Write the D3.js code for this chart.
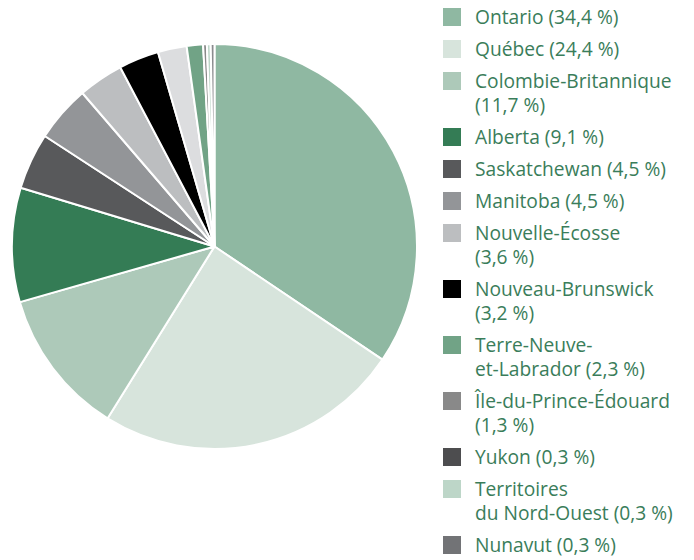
<!DOCTYPE html>
<html><head><meta charset="utf-8">
<script src="https://cdn.jsdelivr.net/npm/d3@7"></script>
<style>body{margin:0;background:#fff}</style>
</head><body>
<svg id="c" width="694" height="560"></svg>
<script>
const provinces = ["Ontario","Québec","Colombie-Britannique","Alberta","Saskatchewan","Manitoba","Nouvelle-Écosse","Nouveau-Brunswick","Terre-Neuve-\net-Labrador","Île-du-Prince-Édouard","Yukon","Territoires\ndu Nord-Ouest","Nunavut"];
const shares = [34.4,24.4,11.7,9.1,4.5,4.5,3.6,3.2,2.3,1.3,0.3,0.3,0.3];
const breakBeforeValue = [false,false,true,false,false,false,true,true,false,true,false,false,false];
const legendColors = ["#8fb8a2","#d7e4dc","#adc9b9","#347c55","#58595b","#939598","#bcbec0","#000000","#71a386","#898989","#4d4d4f","#bdd6c8","#727376"];
const sliceColors = ["#8fb8a2","#d7e4dc","#adc9b9","#347c55","#58595b","#939598","#bcbec0","#000000","#dcdddf","#71a386","#898989","#bdd6c8","#8a8b8e"];

const svg = d3.select("#c");
const data = provinces.map((p,i)=>({name:p,value:shares[i],color:legendColors[i],slice:sliceColors[i],brk:breakBeforeValue[i]}));

const cx = 214.5, cy = 246.5, r = 202.5;
const pie = d3.pie().value(d=>d.value).sort(null);
const arc = d3.arc().innerRadius(0).outerRadius(r);
svg.append("g").attr("transform",`translate(${cx},${cy})`)
  .selectAll("path").data(pie(data)).join("path")
  .attr("d",arc).attr("fill",d=>d.data.slice)
  .attr("stroke","#fff").attr("stroke-width",2).attr("stroke-linejoin","round");

const fmt = v => d3.format(".1f")(v).replace(".",",");
const lg = svg.append("g");
let y = 17;
data.forEach(d=>{
  const val = `(${fmt(d.value)} %)`;
  let lines;
  const parts = d.name.split("\n");
  if (d.brk) lines = [...parts, val];
  else { lines = parts.slice(); lines[lines.length-1] += " " + val; }
  lg.append("rect").attr("x",443).attr("y",y-9).attr("width",18).attr("height",18).attr("fill",d.color);
  const t = lg.append("text").attr("x",475).attr("y",y)
    .attr("font-family","'Open Sans', sans-serif").attr("font-size",19.2).attr("fill","#3a7d5a");
  lines.forEach((l,i)=>{ t.append("tspan").attr("x",475).attr("y", y + i*24).attr("dy","0.36em").text(l); });
  y += 32 + (lines.length-1)*24;
});
</script>
</body></html>
